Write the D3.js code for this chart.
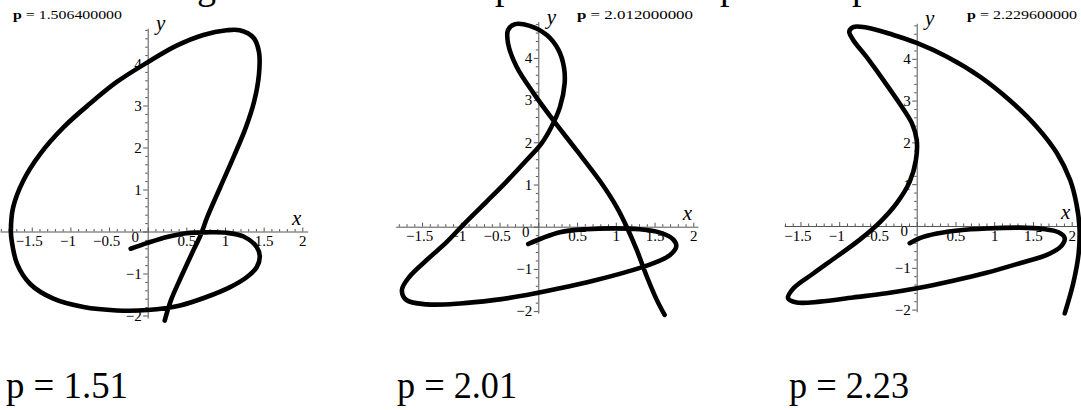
<!DOCTYPE html>
<html>
<head>
<meta charset="utf-8">
<script src="https://cdn.jsdelivr.net/npm/d3@7"></script>
<style>
  html, body { margin: 0; padding: 0; background: #fff; }
  svg { display: block; }
  text { font-family: "Liberation Serif", "Times New Roman", "DejaVu Serif", serif; fill: #000; }
</style>
</head>
<body>
<svg id="chart" width="1081" height="410"></svg>
<script>
// Parameter values shown above and below each panel
const paramLong = ["1.506400000", "2.012000000", "2.229600000"];
const paramShort = ["1.51", "2.01", "2.23"];

// Tick labels on the axes
const xTickValues = [-1.5, -1, -0.5, 0.5, 1, 1.5, 2];
const yTickValues = [-2, -1, 1, 2, 3, 4];

// Curve traced for p = 1.51
const curve1X = [-0.22, 0, 0.25, 0.50, 0.76, 1.02, 1.24, 1.41, 1.45, 1.41, 1.28, 1.06, 0.76, 0.42, 0, -0.40, -0.83, -1.22, -1.52, -1.69, -1.76, -1.77, -1.74, -1.61, -1.39, -1.09, -0.75, -0.40, 0, 0.38, 0.72, 1.02, 1.19, 1.37, 1.44, 1.44, 1.38, 1.27, 1.11, 0.94, 0.77, 0.69, 0.57, 0.43, 0.30, 0.22];
const curve1Y = [-0.41, -0.27, -0.13, -0.04, -0.02, -0.03, -0.12, -0.37, -0.61, -0.85, -1.09, -1.33, -1.56, -1.76, -1.87, -1.88, -1.80, -1.60, -1.25, -0.77, -0.21, 0.02, 0.58, 1.21, 1.85, 2.48, 3.04, 3.56, 4.03, 4.43, 4.68, 4.79, 4.79, 4.61, 4.27, 3.75, 3.12, 2.48, 1.77, 1.06, 0.34, -0.06, -0.53, -1.09, -1.64, -2.12];

// Curve traced for p = 2.01
const curve2X = [-0.13, 0.04, 0.28, 0.62, 0.97, 1.31, 1.57, 1.74, 1.78, 1.70, 1.48, 1.14, 0.71, 0.28, -0.15, -0.58, -1.01, -1.44, -1.70, -1.76, -1.66, -1.44, -1.18, -0.95, -0.67, -0.41, -0.15, 0.04, 0.17, 0.28, 0.34, 0.33, 0.26, 0.11, -0.11, -0.30, -0.39, -0.39, -0.28, -0.06, 0.19, 0.49, 0.80, 1.01, 1.14, 1.27, 1.40, 1.53, 1.63];
const curve2Y = [-0.41, -0.28, -0.13, -0.06, -0.04, -0.06, -0.14, -0.30, -0.47, -0.67, -0.87, -1.07, -1.28, -1.46, -1.62, -1.74, -1.82, -1.84, -1.74, -1.50, -1.18, -0.79, -0.36, 0.08, 0.59, 1.07, 1.58, 1.97, 2.37, 2.84, 3.40, 3.79, 4.19, 4.54, 4.76, 4.80, 4.66, 4.34, 3.79, 3.16, 2.53, 1.82, 1.07, 0.47, 0.0, -0.55, -1.18, -1.74, -2.09];

// Curve traced for p = 2.23
const curve3X = [-0.09, 0.04, 0.26, 0.56, 0.90, 1.33, 1.63, 1.83, 1.91, 1.86, 1.68, 1.33, 0.90, 0.47, 0, -0.39, -0.82, -1.25, -1.55, -1.66, -1.59, -1.33, -1.03, -0.73, -0.47, -0.26, -0.09, -0.01, 0, -0.06, -0.22, -0.43, -0.65, -0.82, -0.87, -0.82, -0.65, -0.30, 0, 0.39, 0.82, 1.20, 1.55, 1.81, 1.98, 2.06, 2.10, 2.09, 2.02, 1.91];
const curve3Y = [-0.41, -0.29, -0.18, -0.10, -0.06, -0.04, -0.07, -0.15, -0.29, -0.49, -0.69, -0.89, -1.12, -1.31, -1.49, -1.61, -1.71, -1.81, -1.83, -1.73, -1.49, -1.13, -0.73, -0.32, 0.10, 0.54, 1.06, 1.58, 2.06, 2.45, 2.93, 3.49, 4.05, 4.45, 4.65, 4.76, 4.75, 4.57, 4.38, 4.05, 3.57, 3.01, 2.37, 1.74, 1.10, 0.54, -0.02, -0.65, -1.37, -2.09];

// Panel geometry: origin in pixels, pixels per unit, visible axis extents
const panels = [
  { xs: curve1X, ys: curve1Y, ox: 147.7, oy: 231.5, ux: 77.3, uy: 42.0, xMin: -1.91, xMax: 2.07, yMin: -2.06, yMax: 4.84,
    topX: 13, topW: 109, topY: 18.5, botX: 6, botW: 122 },
  { xs: curve2X, ys: curve2Y, ox: 538.3, oy: 226.7, ux: 77.5, uy: 42.2, xMin: -1.84, xMax: 2.06, yMin: -2.05, yMax: 4.86,
    topX: 577, topW: 116, topY: 19.3, botX: 397, botW: 120 },
  { xs: curve3X, ys: curve3Y, ox: 916.7, oy: 226.0, ux: 77.5, uy: 41.8, xMin: -1.71, xMax: 2.12, yMin: -2.05, yMax: 4.85,
    topX: 967, topW: 110, topY: 19.3, botX: 789, botW: 120 }
];

const svg = d3.select("#chart");
const fmt = v => (v < 0 ? "\u2212" : "") + String(Math.abs(v));

// Descenders of the preceding text line, running off the top edge
[["g", 197], ["p", 495], ["p", 720], ["p", 852]].forEach(([ch, px]) => {
  svg.append("text").attr("x", px).attr("y", -0.8)
    .attr("font-size", 38).text(ch);
});

panels.forEach((p, i) => {
  const x = d3.scaleLinear().domain([p.xMin, p.xMax])
    .range([p.ox + p.xMin * p.ux, p.ox + p.xMax * p.ux]);
  const y = d3.scaleLinear().domain([p.yMin, p.yMax])
    .range([p.oy - p.yMin * p.uy, p.oy - p.yMax * p.uy]);

  const g = svg.append("g");

  // x axis: minor ticks every 0.1, major every 0.5, pointing up
  const xMinor = d3.range(Math.ceil(p.xMin * 10), Math.floor(p.xMax * 10) + 1).map(d => d / 10);
  const xAx = g.append("g").attr("transform", `translate(0,${p.oy})`)
    .call(d3.axisTop(x).tickValues(xMinor).tickSize(2.5).tickFormat("").tickSizeOuter(0));
  xAx.selectAll(".tick line").attr("y2", d => Math.abs(d * 2 - Math.round(d * 2)) < 1e-6 ? -4 : -2.5);
  xAx.selectAll("path, line").attr("stroke", "#555");

  const xLab = g.append("g").attr("transform", `translate(0,${p.oy})`)
    .call(d3.axisBottom(x).tickValues(xTickValues).tickSize(0).tickPadding(4).tickFormat(fmt));
  xLab.select(".domain").remove();
  xLab.selectAll("text").attr("font-size", 15).attr("font-family", "Liberation Serif").attr("fill", "#000")
    .attr("dx", d => d < 0 ? "-0.2em" : 0);

  // y axis: minor ticks every 0.2, pointing left
  const yMinor = d3.range(Math.ceil(p.yMin * 5), Math.floor(p.yMax * 5) + 1).map(d => d / 5);
  const yAx = g.append("g").attr("transform", `translate(${p.ox},0)`)
    .call(d3.axisLeft(y).tickValues(yMinor).tickSize(2.5).tickFormat("").tickSizeOuter(0));
  yAx.selectAll(".tick line").attr("x2", d => Math.abs(d - Math.round(d)) < 1e-6 ? -4.5 : -2.5);
  yAx.selectAll("path, line").attr("stroke", "#555");

  const yLab = g.append("g").attr("transform", `translate(${p.ox},0)`)
    .call(d3.axisLeft(y).tickValues(yTickValues).tickSize(0).tickPadding(6).tickFormat(fmt));
  yLab.select(".domain").remove();
  yLab.selectAll("text").attr("font-size", 15).attr("font-family", "Liberation Serif").attr("fill", "#000");

  // origin label
  g.append("text").attr("x", x(0) - 12.5).attr("y", y(0) + 10)
    .attr("text-anchor", "middle").attr("font-size", 15).text("0");

  // axis names
  g.append("text").attr("x", x(0) + 149).attr("y", y(0) - 7)
    .attr("text-anchor", "middle").attr("font-size", 21).attr("font-style", "italic").text("x");
  g.append("text").attr("x", x(0) + 13).attr("y", y(p.yMax) + 2)
    .attr("text-anchor", "middle").attr("font-size", 21).attr("font-style", "italic").text("y");

  // the curve
  const line = d3.line()
    .x((d, k) => x(p.xs[k]))
    .y((d, k) => y(p.ys[k]))
    .curve(d3.curveCatmullRom.alpha(0.5));
  g.append("path")
    .attr("d", line(p.xs))
    .attr("fill", "none")
    .attr("stroke", "#000")
    .attr("stroke-width", 4.6)
    .attr("stroke-linecap", "round")
    .attr("stroke-linejoin", "round");

  // parameter value in the corner
  const t = svg.append("text").attr("x", p.topX).attr("y", p.topY)
    .attr("font-size", 11.5).attr("textLength", p.topW).attr("lengthAdjust", "spacingAndGlyphs");
  t.append("tspan").attr("font-weight", "bold").text("p");
  t.append("tspan").text("  =  " + paramLong[i]);

  // caption below
  svg.append("text").attr("x", p.botX).attr("y", 398)
    .attr("font-size", 38).attr("textLength", p.botW).attr("lengthAdjust", "spacingAndGlyphs")
    .text("p = " + paramShort[i]);
});
</script>
</body>
</html>
